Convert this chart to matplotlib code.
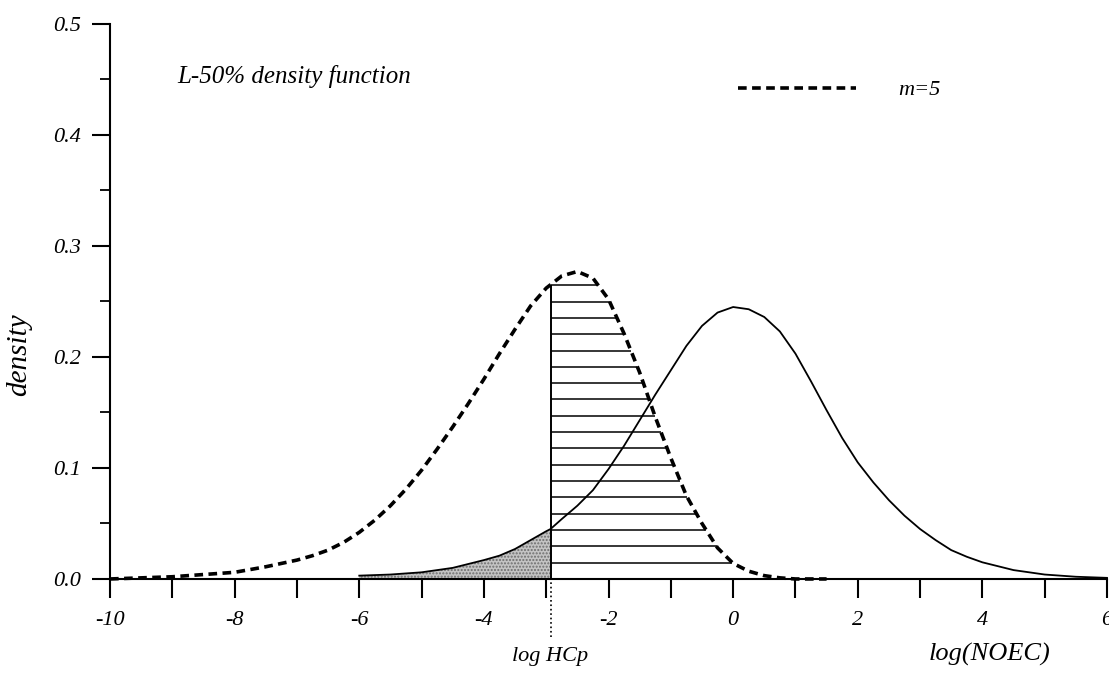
import numpy as np
import matplotlib.pyplot as plt
from matplotlib.ticker import MultipleLocator, FormatStrFormatter

plt.rcParams['font.family'] = ['Liberation Serif', 'DejaVu Serif']
plt.rcParams['font.style'] = 'italic'
plt.rcParams['axes.unicode_minus'] = False

# solid curve
x_solid = [-6.0, -5.5, -5.0, -4.5, -4.0, -3.75, -3.5, -3.25, -3.0, -2.93, -2.75, -2.5,
           -2.25, -2.0, -1.75, -1.5, -1.25, -1.0, -0.75, -0.5, -0.25, 0.0, 0.25, 0.5,
           0.75, 1.0, 1.25, 1.5, 1.75, 2.0, 2.25, 2.5, 2.75, 3.0, 3.25, 3.5, 3.75, 4.0,
           4.5, 5.0, 5.5, 6.0]
y_solid = [0.003, 0.004, 0.006, 0.010, 0.017, 0.021, 0.027, 0.035, 0.043, 0.045, 0.054,
           0.066, 0.080, 0.099, 0.120, 0.143, 0.166, 0.188, 0.210, 0.228, 0.240, 0.245,
           0.243, 0.236, 0.223, 0.203, 0.178, 0.152, 0.127, 0.105, 0.087, 0.071, 0.057,
           0.045, 0.035, 0.026, 0.020, 0.015, 0.008, 0.004, 0.002, 0.001]

# dashed curve m=5
x_m5 = [-10.0, -9.5, -9.0, -8.5, -8.0, -7.5, -7.0, -6.75, -6.5, -6.25, -6.0, -5.75, -5.5,
        -5.25, -5.0, -4.75, -4.5, -4.25, -4.0, -3.75, -3.5, -3.25, -3.0, -2.75, -2.5,
        -2.25, -2.0, -1.75, -1.5, -1.25, -1.0, -0.75, -0.5, -0.25, 0.0, 0.25, 0.5, 0.75,
        1.0, 1.5]
y_m5 = [0.000, 0.001, 0.002, 0.004, 0.006, 0.011, 0.017, 0.021, 0.026, 0.033, 0.042, 0.053,
        0.066, 0.081, 0.098, 0.117, 0.137, 0.158, 0.180, 0.203, 0.225, 0.246, 0.262, 0.273,
        0.277, 0.271, 0.252, 0.221, 0.186, 0.146, 0.109, 0.075, 0.050, 0.028, 0.014,
        0.007, 0.003, 0.001, 0.000, 0.000]

log_hcp = -2.93
hatch_step = 0.0147
n_hatch = 18

fig = plt.figure(figsize=(11.09, 6.77), dpi=100)
ax = fig.add_axes([0.0992, 0.1448, 0.899, 0.8198])

xs = np.array(x_solid)
ys = np.array(y_solid)
xd = np.array(x_m5)
yd = np.array(y_m5)

# stippled area under solid curve, left of log HCp
ax.fill_between(xs, 0, ys, where=(xs <= log_hcp), facecolor='#c4c4c4',
                edgecolor='#6e6e6e', hatch='.....', linewidth=0, zorder=1)

# horizontal hatching between log HCp and the dashed curve
ipk = int(np.argmax(yd))
xr = xd[ipk:-2][::-1]
yr = yd[ipk:-2][::-1]
levels = hatch_step * np.arange(1, n_hatch + 1)
x_ends = np.interp(levels, yr, xr)
ax.hlines(levels, log_hcp, x_ends, color='black', lw=1.1, zorder=2)

top_hcp = np.interp(log_hcp, xd, yd)
ax.vlines(log_hcp, 0, top_hcp, color='black', lw=1.4, zorder=3)
ax.axvline(log_hcp, ymin=-0.105, ymax=0, color='black', lw=1.2, ls=':', clip_on=False)

ax.plot(xs, ys, color='black', lw=1.3, zorder=4, clip_on=False)
line_m5, = ax.plot(xd, yd, color='black', lw=2.6, dashes=(2.4, 1.5), zorder=4,
                   label='m=5', clip_on=False)

ax.set_xlim(-10, 6)
ax.set_ylim(0, 0.5)

for s in ['top', 'right']:
    ax.spines[s].set_visible(False)
for s in ['left', 'bottom']:
    ax.spines[s].set_linewidth(1.5)

ax.xaxis.set_major_locator(MultipleLocator(2))
ax.xaxis.set_minor_locator(MultipleLocator(1))
ax.yaxis.set_major_locator(MultipleLocator(0.1))
ax.yaxis.set_minor_locator(MultipleLocator(0.05))
ax.yaxis.set_major_formatter(FormatStrFormatter('%.1f'))
ax.xaxis.set_major_formatter(FormatStrFormatter('%d'))

ax.tick_params(axis='x', which='both', direction='out', length=14, width=1.5, pad=9,
               labelsize=16)
ax.tick_params(axis='y', which='major', direction='out', length=13, width=1.5, pad=8,
               labelsize=16)
ax.tick_params(axis='y', which='minor', direction='out', length=7, width=1.3)

ax.set_ylabel('density', fontsize=21)
ax.yaxis.set_label_coords(-0.078, 0.404)

ax.text(-8.92, 0.453, 'L-50% density function', fontsize=18, va='center', ha='left')
ax.text(log_hcp, -0.07, 'log HCp', fontsize=16, ha='center', va='center', clip_on=False)
ax.text(4.12, -0.068, 'log(NOEC)', fontsize=19, ha='center', va='center', clip_on=False)

ax.legend(handles=[line_m5], loc='center left', bbox_to_anchor=(0.63, 0.881),
          frameon=False, fontsize=16, handlelength=5.3, handletextpad=1.9,
          borderpad=0, borderaxespad=0)

fig.savefig('out.png', dpi=100)
